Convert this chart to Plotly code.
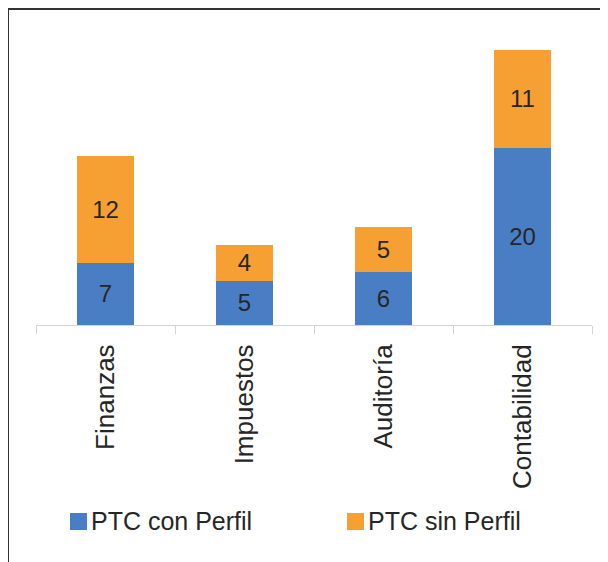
import plotly.graph_objects as go

categories = ["Finanzas", "Impuestos", "Auditoría", "Contabilidad"]
con_perfil = [7, 5, 6, 20]
sin_perfil = [12, 4, 5, 11]
series_names = ["PTC con Perfil", "PTC sin Perfil"]

BLUE = "#4a7ec4"
ORANGE = "#f6a033"
TEXT = "#262626"
FONT = "Liberation Sans, Arial, sans-serif"

OFF = 8  # page body margin
W, H = 600, 554
L, R, T, B = 28, 16, 33, 237
PW, PH = W - L - R, H - T - B


def px(x):
    return (x - OFF - L) / PW


def py(y):
    return (H - B - (y - OFF)) / PH


fig = go.Figure()
for name, vals, col in [(series_names[0], con_perfil, BLUE), (series_names[1], sin_perfil, ORANGE)]:
    fig.add_trace(go.Bar(
        name=name, x=categories, y=vals, marker=dict(color=col, line=dict(width=0)),
        text=[str(v) for v in vals], textposition="inside", insidetextanchor="middle",
        textangle=0, textfont=dict(size=24, color=TEXT, family=FONT),
        constraintext="none", showlegend=False,
    ))

shapes = [
    dict(type="line", xref="paper", yref="paper", x0=px(8), x1=px(620), y0=py(9), y1=py(9),
         line=dict(color="#333333", width=2)),
    dict(type="line", xref="paper", yref="paper", x0=px(8), x1=px(8), y0=py(9), y1=py(580),
         line=dict(color="#333333", width=2)),
]
annotations = []
legend_pos = [(70, BLUE), (347, ORANGE)]
for (x0, col), name in zip(legend_pos, series_names):
    shapes.append(dict(type="rect", xref="paper", yref="paper", x0=px(x0), x1=px(x0 + 17),
                       y0=py(530), y1=py(513), fillcolor=col, line=dict(width=0)))
    annotations.append(dict(xref="paper", yref="paper", x=px(x0 + 19), y=py(521), text=name,
                            xanchor="left", yanchor="middle", showarrow=False,
                            font=dict(size=25, color=TEXT, family=FONT)))

fig.update_layout(
    barmode="stack", bargap=0.59,
    width=W, height=H, margin=dict(l=L, r=R, t=T, b=B, pad=0),
    paper_bgcolor="white", plot_bgcolor="white",
    font=dict(family=FONT, size=24, color=TEXT),
    shapes=shapes, annotations=annotations,
    xaxis=dict(showline=True, linecolor="#d4d4d4", linewidth=1, ticks="outside",
               tickson="boundaries", ticklen=8, tickcolor="#d4d4d4", tickangle=-90,
               ticklabelstandoff=8,
               tickfont=dict(size=26, color=TEXT, family=FONT), showgrid=False),
    yaxis=dict(range=[0, 32], visible=False, showgrid=False),
)

fig.write_html("out.html")
